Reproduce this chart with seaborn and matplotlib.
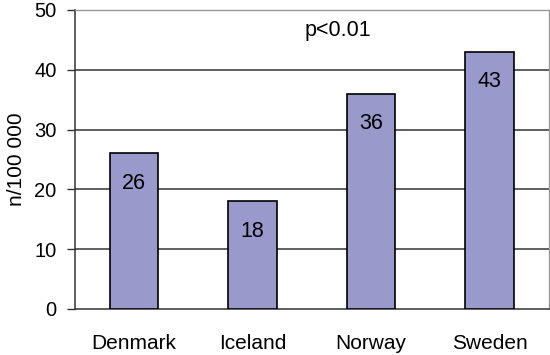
import matplotlib
matplotlib.use("Agg")
import matplotlib.pyplot as plt
import seaborn as sns
import pandas as pd

# Data
countries = ['Denmark', 'Iceland', 'Norway', 'Sweden']
rates = [26, 18, 36, 43]
yticks = [0, 10, 20, 30, 40, 50]

df = pd.DataFrame({'Country': countries, 'Rate': rates})

sns.set_style('white')
plt.rcParams['font.family'] = ['Liberation Sans', 'DejaVu Sans']

fig = plt.figure(figsize=(5.5, 3.55), dpi=100)
ax = fig.add_axes([0.136, 0.130, 0.862, 0.842])

sns.barplot(x='Country', y='Rate', data=df, color='#9999cc', saturation=1,
            width=0.41, edgecolor='black', linewidth=1.2, ax=ax, zorder=3)

# horizontal gridlines
for y in yticks[1:-1]:
    ax.axhline(y, color='#333333', linewidth=1.1, zorder=1)

# value labels inside bars
for i, v in enumerate(rates):
    ax.text(i, v - 5, str(v), ha='center', va='center', fontsize=15.5,
            color='black', zorder=4)

ax.text(1.72, 46.5, 'p<0.01', ha='center', va='center', fontsize=15.5, color='black')

ax.set_ylim(0, 50)
ax.set_xlim(-0.5, 3.5)
ax.set_yticks(yticks)
ax.set_xlabel('')
ax.set_ylabel('n/100 000', fontsize=15, color='black', labelpad=6)

# ticks between categories on x axis
ax.set_xticks([-0.5, 0.5, 1.5, 2.5, 3.5], minor=True)
ax.tick_params(axis='x', which='major', length=0, pad=18, labelsize=15, labelcolor='black')
ax.tick_params(axis='x', which='minor', length=6, width=1, color='#333333', direction='out')
ax.tick_params(axis='y', length=6, width=1, color='#333333', direction='out',
               labelsize=14.5, labelcolor='black', left=True, pad=7)

for side in ['left', 'bottom']:
    ax.spines[side].set_color('#333333')
    ax.spines[side].set_linewidth(1.1)
for side in ['top', 'right']:
    ax.spines[side].set_color('#999999')
    ax.spines[side].set_linewidth(1.0)

fig.savefig('out.png', dpi=100)
